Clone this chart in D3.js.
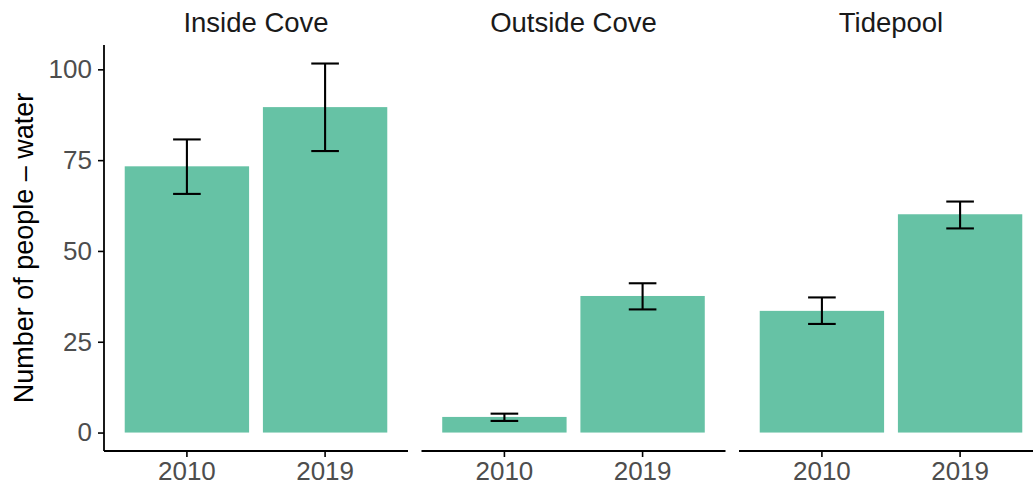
<!DOCTYPE html>
<html>
<head>
<meta charset="utf-8">
<script src="https://cdn.jsdelivr.net/npm/d3@7"></script>
<style>
  html, body { margin: 0; padding: 0; background: #fff; }
  svg { display: block; font-family: "Liberation Sans", Arial, Helvetica, sans-serif; }
</style>
</head>
<body>
<svg id="chart" width="1033" height="490"></svg>
<script>
// Sites (facets) and survey years
const sites = ["Inside Cove", "Outside Cove", "Tidepool"];
const years = ["2010", "2019"];
// Mean number of people in the water, per site, per year
const meanValues = [
  [73.3, 89.6],
  [4.3, 37.6],
  [33.5, 60.1]
];
// Error bar bounds (lower / upper)
const lowerValues = [
  [65.7, 77.5],
  [3.2, 33.9],
  [29.9, 56.2]
];
const upperValues = [
  [80.7, 101.6],
  [5.2, 41.1],
  [37.2, 63.6]
];
const yTicks = [0, 25, 50, 75, 100];
const yTitle = "Number of people \u2013 water";

const svg = d3.select("#chart");
const barColor = "#66c2a5";

const panelLeft = 104, panelWidth = 304, panelGap = 13.5;
const plotTop = 45, plotBottom = 451;

const y = d3.scaleLinear().domain([-5.08, 106.7]).range([plotBottom, plotTop]);

// Y axis (left of the first panel)
const yAxis = svg.append("g")
  .attr("transform", `translate(${panelLeft},0)`)
  .call(d3.axisLeft(y).tickValues(yTicks).tickSize(6).tickPadding(6).tickFormat(d3.format("d")));
yAxis.select(".domain").attr("stroke", "#000").attr("stroke-width", 1.8)
  .attr("d", `M0,${plotTop}V${plotBottom}`);
yAxis.selectAll(".tick line").attr("stroke", "#000").attr("stroke-width", 1.6);
yAxis.selectAll(".tick text").attr("fill", "#4d4d4d").attr("font-size", 26)
  .attr("font-family", "Liberation Sans, Arial, sans-serif");

// Y axis title
svg.append("text")
  .attr("transform", `translate(33,${(plotTop + plotBottom) / 2}) rotate(-90)`)
  .attr("text-anchor", "middle")
  .attr("font-size", 27)
  .attr("fill", "#000")
  .text(yTitle);

sites.forEach((site, i) => {
  const x0 = panelLeft + i * (panelWidth + panelGap);
  const x = d3.scaleBand().domain(years).range([0, panelWidth])
    .paddingInner(0.1).paddingOuter(0.15);
  const g = svg.append("g").attr("transform", `translate(${x0},0)`);

  // Facet title
  g.append("text")
    .attr("x", panelWidth / 2).attr("y", 32)
    .attr("text-anchor", "middle")
    .attr("font-size", 27.5)
    .attr("fill", "#1a1a1a")
    .text(site);

  const rows = years.map((yr, j) => ({
    year: yr, mean: meanValues[i][j], lo: lowerValues[i][j], hi: upperValues[i][j]
  }));

  // Bars
  g.selectAll("rect.bar").data(rows).join("rect")
    .attr("class", "bar")
    .attr("x", d => x(d.year))
    .attr("width", x.bandwidth())
    .attr("y", d => y(d.mean))
    .attr("height", d => y(0) - y(d.mean))
    .attr("fill", barColor);

  // Error bars
  const capW = x.step() * 0.2;
  const eb = g.selectAll("g.err").data(rows).join("g").attr("class", "err")
    .attr("transform", d => `translate(${x(d.year) + x.bandwidth() / 2},0)`)
    .attr("stroke", "#000").attr("stroke-width", 2.1).attr("fill", "none");
  eb.append("line").attr("x1", 0).attr("x2", 0).attr("y1", d => y(d.lo)).attr("y2", d => y(d.hi));
  eb.append("line").attr("x1", -capW / 2).attr("x2", capW / 2).attr("y1", d => y(d.lo)).attr("y2", d => y(d.lo));
  eb.append("line").attr("x1", -capW / 2).attr("x2", capW / 2).attr("y1", d => y(d.hi)).attr("y2", d => y(d.hi));

  // X axis
  const xAxis = g.append("g").attr("transform", `translate(0,${plotBottom})`)
    .call(d3.axisBottom(x).tickSize(6).tickPadding(5));
  xAxis.select(".domain").attr("stroke", "#000").attr("stroke-width", 1.8)
    .attr("d", `M0,0H${panelWidth}`);
  xAxis.selectAll(".tick line").attr("stroke", "#000").attr("stroke-width", 1.6);
  xAxis.selectAll(".tick text").attr("fill", "#4d4d4d").attr("font-size", 26)
    .attr("font-family", "Liberation Sans, Arial, sans-serif");
});
</script>
</body>
</html>
